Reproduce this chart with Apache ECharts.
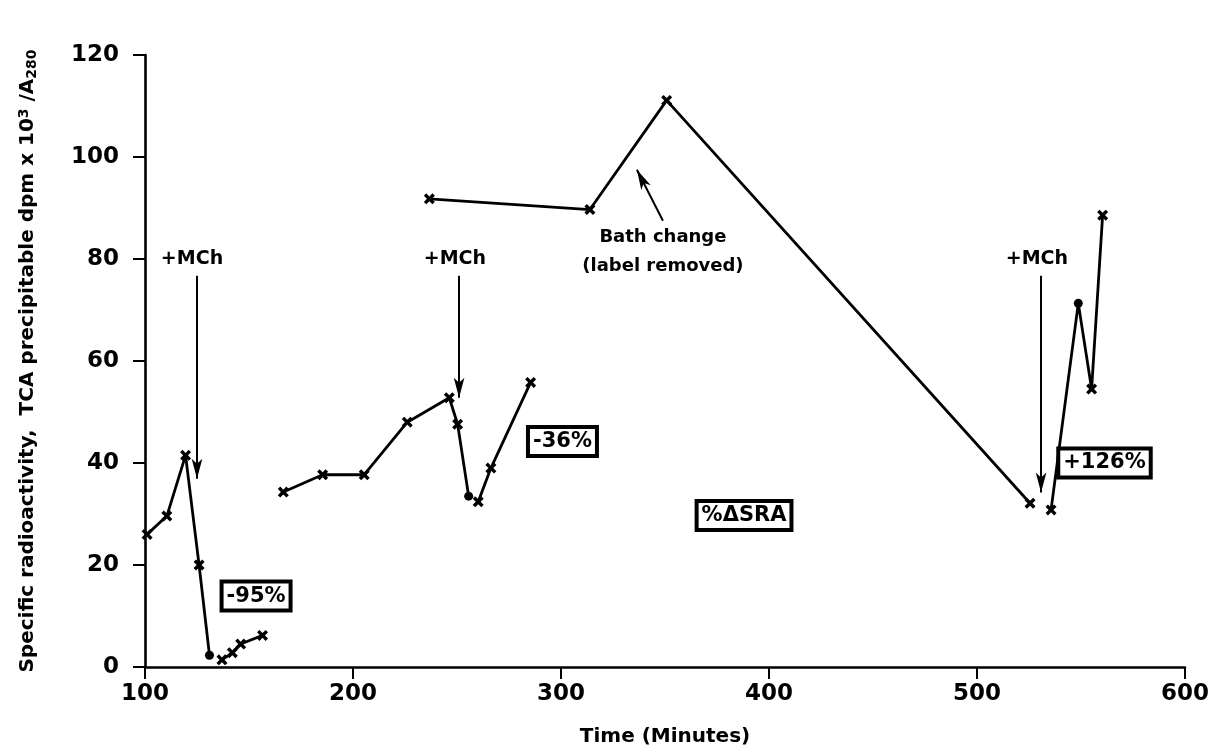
<!DOCTYPE html>
<html>
<head>
<meta charset="utf-8">
<script src="https://cdn.jsdelivr.net/npm/echarts@6/dist/echarts.min.js"></script>
<style>
  html, body { margin: 0; padding: 0; background: #ffffff; }
  #chart { width: 1220px; height: 752px; }
</style>
</head>
<body>
<div id="chart"></div>
<script>
// Axis ticks
const xTicks = [100, 200, 300, 400, 500, 600];
const yTicks = [0, 20, 40, 60, 80, 100, 120];

// Measured runs (time in minutes, specific radioactivity); 'x' = cross, 'dot' = filled circle
const run1Time   = [101, 110.5, 119.5, 126, 131];
const run1Value  = [26, 29.6, 41.5, 20, 2.3];
const run1Marker = ['x', 'x', 'x', 'x', 'dot'];

const run2Time   = [137, 142, 146, 156.5];
const run2Value  = [1.4, 2.8, 4.5, 6.2];
const run2Marker = ['x', 'x', 'x', 'x'];

const run3Time   = [166.5, 185.4, 205.4, 226.1, 246.3, 250.3, 255.6];
const run3Value  = [34.3, 37.7, 37.7, 48, 52.8, 47.6, 33.5];
const run3Marker = ['x', 'x', 'x', 'x', 'x', 'x', 'dot'];

const run4Time   = [260.2, 266.3, 285.4];
const run4Value  = [32.4, 39, 55.8];
const run4Marker = ['x', 'x', 'x'];

const run5Time   = [236.7, 313.9, 350.8, 525.5];
const run5Value  = [91.8, 89.7, 111.1, 32.1];
const run5Marker = ['x', 'x', 'x', 'x'];

const run6Time   = [535.6, 548.7, 555.1, 560.4];
const run6Value  = [30.8, 71.3, 54.5, 88.6];
const run6Marker = ['x', 'dot', 'x', 'x'];

// Methacholine additions: arrow time, arrow start and end values
const mchTime  = [125, 251, 530.8];
const mchFrom  = [76.7, 76.7, 76.7];
const mchTo    = [36.9, 52.8, 34.2];
const mchLabelTime  = [122.6, 249, 528.8];
const mchLabelValue = [80, 80, 80];

// Bath change pointer
const bathArrowFrom = [349, 87.5];
const bathArrowTo   = [336.5, 97.5];
const bathText      = ['Bath change', '(label removed)'];
const bathTextTime  = [349, 349];
const bathTextValue = [84.3, 78.6];

// Boxed percentage changes
const boxText  = ['-95%', '-36%', '%\u0394SRA', '+126%'];
const boxTime  = [153.4, 300.7, 388, 561.3];
const boxValue = [13.9, 44.2, 29.7, 40];

// Heavy cross marker
const CROSS = 'path://M0,2.2L2.2,0L5,2.8L7.8,0L10,2.2L7.2,5L10,7.8L7.8,10L5,7.2L2.2,10L0,7.8L2.8,5Z';
const FONT = 'DejaVu Sans';

function runSeries(times, values, markers) {
  return {
    type: 'line',
    data: times.map((t, i) => ({
      value: [t, values[i]],
      symbol: markers[i] === 'dot' ? 'circle' : CROSS,
      symbolSize: markers[i] === 'dot' ? 9 : 11
    })),
    showSymbol: true,
    lineStyle: { color: '#000', width: 2.8 },
    itemStyle: { color: '#000', opacity: 1 },
    silent: true,
    z: 3
  };
}

function textSeries(times, values, texts, labelStyle) {
  return {
    type: 'scatter',
    data: times.map((t, i) => ({ value: [t, values[i]], name: texts[i] })),
    symbol: 'circle',
    symbolSize: 1,
    itemStyle: { color: 'rgba(255,255,255,0)', opacity: 1 },
    silent: true,
    label: Object.assign({
      show: true,
      position: 'inside',
      formatter: p => p.name,
      color: '#000',
      textBorderWidth: 0,
      textShadowBlur: 0,
      fontFamily: FONT,
      fontWeight: 'bold'
    }, labelStyle),
    z: 5
  };
}

const arrowLines = mchTime.map((t, i) => [
  { coord: [t, mchFrom[i]] },
  { coord: [t, mchTo[i]] }
]);
arrowLines.push([{ coord: bathArrowFrom }, { coord: bathArrowTo }]);

const chart = echarts.init(document.getElementById('chart'), null, { renderer: 'canvas' });

chart.setOption({
  animation: false,
  backgroundColor: '#ffffff',
  grid: { left: 145, right: 35, top: 55, bottom: 82, containLabel: false },
  xAxis: {
    type: 'value',
    min: xTicks[0],
    max: xTicks[xTicks.length - 1],
    interval: 100,
    name: 'Time (Minutes)',
    nameLocation: 'middle',
    nameGap: 60,
    nameTextStyle: { fontFamily: FONT, fontWeight: 'bold', fontSize: 20, color: '#000' },
    axisLine: { show: true, lineStyle: { color: '#000', width: 2.6 } },
    axisTick: { show: true, length: 12, lineStyle: { color: '#000', width: 2 } },
    axisLabel: { margin: 16, fontFamily: FONT, fontWeight: 'bold', fontSize: 23, color: '#000' },
    splitLine: { show: false }
  },
  yAxis: {
    type: 'value',
    min: yTicks[0],
    max: yTicks[yTicks.length - 1],
    interval: 20,
    name: '{t|Specific radioactivity,  TCA precipitable dpm x 10}{sup|3}{t| /A}{sub|280}',
    nameLocation: 'middle',
    nameRotate: 90,
    nameGap: 106,
    nameTextStyle: {
      color: '#000',
      rich: {
        t: { fontFamily: FONT, fontWeight: 'bold', fontSize: 20, color: '#000' },
        sup: { fontFamily: FONT, fontWeight: 'bold', fontSize: 14, color: '#000', verticalAlign: 'top', padding: [0, 0, 8, 0] },
        sub: { fontFamily: FONT, fontWeight: 'bold', fontSize: 14, color: '#000', verticalAlign: 'bottom', padding: [8, 0, 0, 0] }
      }
    },
    axisLine: { show: true, lineStyle: { color: '#000', width: 2.6 } },
    axisTick: { show: true, length: 12, lineStyle: { color: '#000', width: 2 } },
    axisLabel: { margin: 26, fontFamily: FONT, fontWeight: 'bold', fontSize: 23, color: '#000' },
    splitLine: { show: false }
  },
  series: [
    runSeries(run1Time, run1Value, run1Marker),
    runSeries(run2Time, run2Value, run2Marker),
    runSeries(run3Time, run3Value, run3Marker),
    runSeries(run4Time, run4Value, run4Marker),
    runSeries(run5Time, run5Value, run5Marker),
    runSeries(run6Time, run6Value, run6Marker),
    Object.assign(
      textSeries(mchLabelTime, mchLabelValue, mchLabelTime.map(() => '+MCh'), { fontSize: 19 }),
      {
        markLine: {
          silent: true,
          symbol: ['none', 'arrow'],
          symbolSize: [8, 20],
          label: { show: false },
          lineStyle: { color: '#000', width: 2, type: 'solid', opacity: 1 },
          data: arrowLines
        }
      }
    ),
    textSeries(bathTextTime, bathTextValue, bathText, { fontSize: 18 }),
    textSeries(boxTime, boxValue, boxText, {
      fontSize: 21,
      backgroundColor: '#ffffff',
      borderColor: '#000',
      borderWidth: 4,
      padding: [3, 3, 1, 3]
    })
  ]
});
</script>
</body>
</html>
